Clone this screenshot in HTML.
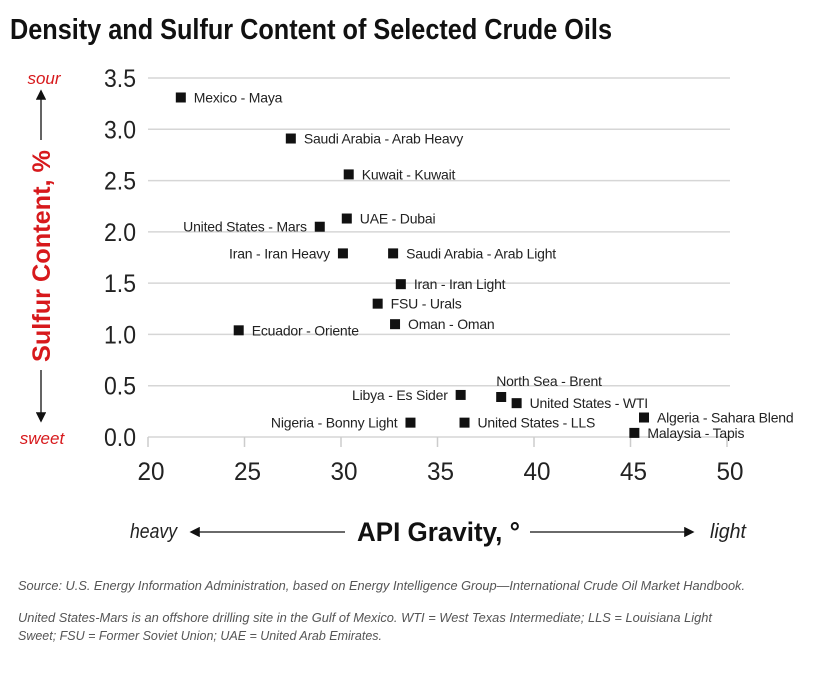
<!DOCTYPE html>
<html><head><meta charset="utf-8"><style>
html,body{margin:0;padding:0;background:#fff;}
svg{display:block;font-family:"Liberation Sans",sans-serif;}
</style></head><body>
<svg id="chart" width="836" height="681" viewBox="0 0 836 681">
<defs>
<marker id="ah" markerWidth="8" markerHeight="8" refX="6" refY="4" orient="auto"><path d="M0,0 L8,4 L0,8 z" fill="#111"/></marker>
</defs>
<text x="10" y="39" font-size="29" font-weight="bold" fill="#111" textLength="602" lengthAdjust="spacingAndGlyphs">Density and Sulfur Content of Selected Crude Oils</text>
<g id="grid"></g>
<g id="yticks"></g>
<g id="xticks"></g>
<g id="points"></g>
<text x="44" y="84" font-size="17" font-style="italic" fill="#d7191c" text-anchor="middle">sour</text>
<line x1="41" y1="140" x2="41" y2="92" stroke="#111" stroke-width="1.3" marker-end="url(#ah)"/>
<text transform="translate(50,256) rotate(-90)" font-size="25" font-weight="bold" fill="#d7191c" text-anchor="middle" textLength="212" lengthAdjust="spacingAndGlyphs">Sulfur Content, %</text>
<line x1="41" y1="370" x2="41" y2="420" stroke="#111" stroke-width="1.3" marker-end="url(#ah)"/>
<text x="42" y="444" font-size="17" font-style="italic" fill="#d7191c" text-anchor="middle">sweet</text>
<text x="130" y="538" font-size="20" font-style="italic" fill="#222" textLength="47" lengthAdjust="spacingAndGlyphs">heavy</text>
<line x1="345" y1="532" x2="192" y2="532" stroke="#111" stroke-width="1.3" marker-end="url(#ah)"/>
<text x="357" y="541" font-size="27" font-weight="bold" fill="#111" textLength="163" lengthAdjust="spacingAndGlyphs">API Gravity, °</text>
<line x1="530" y1="532" x2="692" y2="532" stroke="#111" stroke-width="1.3" marker-end="url(#ah)"/>
<text x="710" y="538" font-size="20" font-style="italic" fill="#222" textLength="36" lengthAdjust="spacingAndGlyphs">light</text>
<text x="18" y="590" font-size="13" font-style="italic" fill="#555" textLength="727" lengthAdjust="spacingAndGlyphs">Source: U.S. Energy Information Administration, based on Energy Intelligence Group—International Crude Oil Market Handbook.</text>
<text x="18" y="622" font-size="13" font-style="italic" fill="#555" textLength="694" lengthAdjust="spacingAndGlyphs">United States-Mars is an offshore drilling site in the Gulf of Mexico. WTI = West Texas Intermediate; LLS = Louisiana Light</text>
<text x="18" y="640" font-size="13" font-style="italic" fill="#555" textLength="364" lengthAdjust="spacingAndGlyphs">Sweet; FSU = Former Soviet Union; UAE = United Arab Emirates.</text>
</svg>
<script>
const names = ["Mexico - Maya","Saudi Arabia - Arab Heavy","Kuwait - Kuwait","UAE - Dubai","United States - Mars","Iran - Iran Heavy","Saudi Arabia - Arab Light","Iran - Iran Light","FSU - Urals","Oman - Oman","Ecuador - Oriente","Libya - Es Sider","North Sea - Brent","United States - WTI","Algeria - Sahara Blend","Nigeria - Bonny Light","United States - LLS","Malaysia - Tapis"];
const apiGravity = [21.7,27.4,30.4,30.3,28.9,30.1,32.7,33.1,31.9,32.8,24.7,36.2,38.3,39.1,45.7,33.6,36.4,45.2];
const sulfur = [3.31,2.91,2.56,2.13,2.05,1.79,1.79,1.49,1.30,1.10,1.04,0.41,0.39,0.33,0.19,0.14,0.14,0.04];
const labelSide = ["r","r","r","r","l","l","r","r","r","r","r","l","t","r","r","l","r","r"];
const xTicks = [20,25,30,35,40,45,50];
const yTicks = ["0.0","0.5","1.0","1.5","2.0","2.5","3.0","3.5"];

const X0=148,X1=727,Y0=437,Y1=78;
const xs = v => X0 + (v-20)/(50-20)*(X1-X0);
const ys = v => Y0 - v/3.5*(Y0-Y1);
const NS="http://www.w3.org/2000/svg";
function mk(tag, attrs, parent){const e=document.createElementNS(NS,tag);for(const k in attrs)e.setAttribute(k,attrs[k]);parent.appendChild(e);return e;}
const grid=document.getElementById('grid'), yt=document.getElementById('yticks'), xt=document.getElementById('xticks'), pts=document.getElementById('points');
yTicks.forEach(t=>{
  const v=parseFloat(t), y=ys(v);
  const l=mk('line',{x1:X0,x2:730,y1:y,y2:y,stroke:'#d6d6d6','stroke-width':1.5},grid);
  
  
  const tx=mk('text',{x:136,y:y+9,'font-size':25,fill:'#222','text-anchor':'end',textLength:32,lengthAdjust:'spacingAndGlyphs'},yt);
  tx.textContent=t;
  
  
});
xTicks.forEach(t=>{
  const x=xs(t);
  const l=mk('line',{x1:x,x2:x,y1:Y0,y2:Y0+10,stroke:'#ccc','stroke-width':1.5},xt);
  
  
  const tx=mk('text',{x:x+3,y:Y0+43,'font-size':25,fill:'#222','text-anchor':'middle',textLength:27,lengthAdjust:'spacingAndGlyphs'},xt);
  tx.textContent=t;
  
  
});
names.forEach((n,i)=>{
  const x=xs(apiGravity[i]), y=ys(sulfur[i]);
  const r=mk('rect',{x:x-5,y:y-5,width:10,height:10,fill:'#111'},pts);
  
  
  const s=labelSide[i];
  let a={'font-size':14,fill:'#222','letter-spacing':'-0.2'};
  if(s==='r'){a.x=x+13;a.y=y+5;}
  else if(s==='l'){a.x=x-13;a.y=y+5;a['text-anchor']='end';}
  else {a.x=x-5;a.y=y-11;}
  const tx=mk('text',a,pts);
  tx.textContent=n;
  
  
});
</script>
</body></html>
